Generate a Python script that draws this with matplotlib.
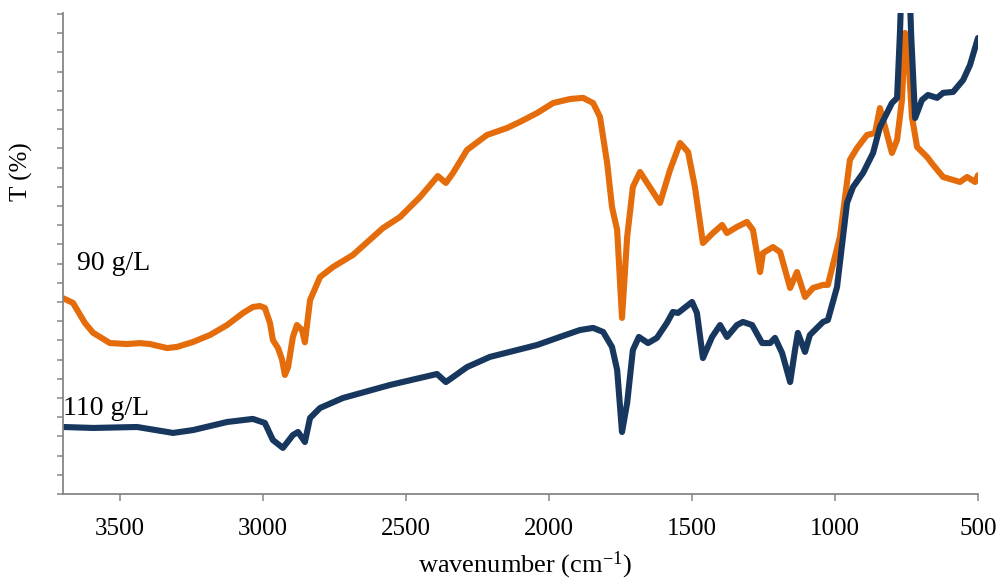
import matplotlib
matplotlib.use("Agg")
import matplotlib.pyplot as plt

plt.rcParams['font.family'] = ['Liberation Serif', 'DejaVu Serif']
plt.rcParams['mathtext.default'] = 'regular'

# FTIR spectra (wavenumber in cm-1, T in arbitrary %-units)
wn_90 = [3700, 3665, 3623, 3595, 3536, 3476, 3431, 3396, 3336, 3301, 3245, 3186,
         3126, 3070, 3036, 3011, 2994, 2976, 2966, 2948, 2934, 2924, 2913, 2896,
         2882, 2864, 2854, 2836, 2801, 2756, 2686, 2581, 2521, 2451, 2389, 2361,
         2336, 2287, 2217, 2147, 2102, 2042, 1986, 1927, 1881, 1846, 1822, 1797,
         1780, 1762, 1745, 1727, 1707, 1682, 1612, 1577, 1542, 1514, 1490, 1462,
         1427, 1395, 1378, 1343, 1308, 1287, 1262, 1252, 1217, 1192, 1157, 1133,
         1105, 1077, 1042, 1025, 983, 948, 923, 888, 860, 843, 825, 801, 783, 766,
         755, 745, 731, 713, 678, 657, 622, 563, 538, 510, 500]
t_90 = [10.2, 9.95, 8.9, 8.4, 7.86, 7.81, 7.86, 7.81, 7.6, 7.66, 7.92, 8.28,
        8.8, 9.43, 9.74, 9.79, 9.69, 8.9, 8.02, 7.6, 7.0, 6.2, 6.6, 8.18,
        8.8, 8.54, 7.9, 10.1, 11.3, 11.82, 12.45, 13.85, 14.43, 15.47, 16.56, 16.2,
        16.72, 17.92, 18.7, 19.06, 19.38, 19.84, 20.36, 20.57, 20.63, 20.36, 19.64, 17.24,
        14.95, 13.75, 9.17, 13.39, 15.99, 16.77, 15.16, 16.88, 18.28, 17.81, 15.99, 13.07,
        13.59, 14.01, 13.59, 13.91, 14.17, 13.75, 11.56, 12.55, 12.86, 12.6, 10.73, 11.56,
        10.26, 10.73, 10.89, 10.89, 13.39, 17.4, 18.02, 18.7, 18.8, 20.1, 19.11, 17.76, 18.44, 20.52,
        24.01, 23.13, 19.64, 18.07, 17.55, 17.14, 16.51, 16.25, 16.51, 16.25, 16.6]

wn_110 = [3700, 3595, 3441, 3315, 3245, 3126, 3036, 2994, 2966, 2931, 2896, 2878,
          2854, 2836, 2801, 2721, 2556, 2392, 2361, 2336, 2287, 2207, 2042, 1962,
          1892, 1846, 1811, 1780, 1762, 1745, 1727, 1707, 1686, 1654, 1623, 1588,
          1567, 1549, 1500, 1483, 1462, 1430, 1402, 1378, 1343, 1322, 1290, 1255,
          1227, 1210, 1185, 1157, 1140, 1130, 1105, 1088, 1063, 1042, 1025, 993,
          958, 937, 902, 867, 843, 801, 783, 773, 762, 745, 734, 720, 696, 675,
          643, 622, 587, 552, 528, 500]
t_110 = [3.49, 3.44, 3.49, 3.18, 3.33, 3.75, 3.91, 3.7, 2.81, 2.4, 3.07, 3.23,
         2.71, 3.96, 4.48, 5.0, 5.68, 6.25, 5.83, 6.09, 6.61, 7.14, 7.76, 8.18,
         8.54, 8.65, 8.44, 7.66, 6.46, 3.23, 4.74, 7.5, 8.18, 7.86, 8.13, 8.91,
         9.48, 9.43, 10.0, 9.43, 7.08, 8.18, 8.8, 8.18, 8.8, 8.96, 8.8, 7.86,
         7.86, 8.13, 7.34, 5.83, 7.5, 8.39, 7.4, 8.28, 8.65, 8.96, 9.06, 10.78,
         15.16, 15.99, 16.72, 17.76, 19.11, 20.36, 20.63, 24.01, 29.0, 29.0, 24.0, 19.58, 20.52, 20.78,
         20.63, 20.89, 20.94, 21.56, 22.34, 23.75]

xticks = [3500, 3000, 2500, 2000, 1500, 1000, 500]

fig = plt.figure(figsize=(10.01, 5.79), dpi=100)
ax = fig.add_axes([63 / 1001, 85 / 579, 915 / 1001, 481 / 579])

ax.plot(wn_90, t_90, color='#E46C0A', linewidth=4.4, solid_joinstyle='round', solid_capstyle='round')
ax.plot(wn_110, t_110, color='#17375E', linewidth=4.4, solid_joinstyle='round', solid_capstyle='round')

ax.set_xlim(3700, 500)
ax.set_ylim(0, 25.05)
ax.set_xticks(xticks)
ax.set_yticks(range(26))
ax.set_yticklabels([])

for s in ['top', 'right']:
    ax.spines[s].set_visible(False)
for s in ['left', 'bottom']:
    ax.spines[s].set_color('#868686')
    ax.spines[s].set_linewidth(1.3)
ax.tick_params(axis='x', length=5, width=1.1, color='#868686', labelsize=18, pad=12)
ax.tick_params(axis='y', length=4, width=1.1, color='#868686')

ax.set_xlabel('wavenumber (cm$^{-1}$)', fontsize=19, va='center')
ax.xaxis.set_label_coords(0.505, -0.148)
ax.set_ylabel('T (%)', fontsize=18, va='center')
ax.yaxis.set_label_coords(-0.045, 0.67)

ax.text(3651, 11.67, '90 g/L', fontsize=20, va='baseline', ha='left')
ax.text(3700, 4.11, '110 g/L', fontsize=20, va='baseline', ha='left')

fig.savefig('out.png', dpi=100)
